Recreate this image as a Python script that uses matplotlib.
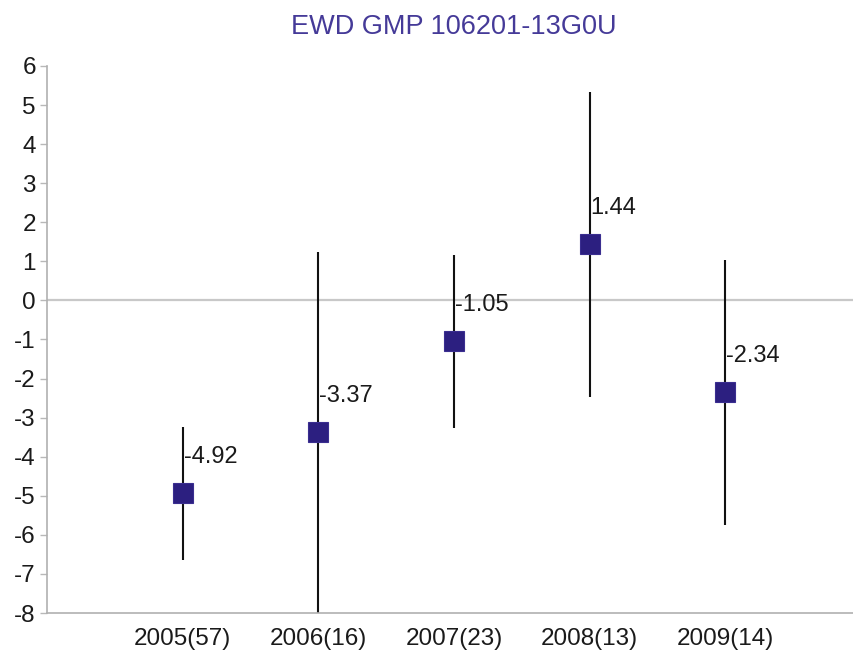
import matplotlib
matplotlib.use("Agg")
import matplotlib.pyplot as plt

# Yearly mean with interval, sample count in brackets
categories = ["2005(57)", "2006(16)", "2007(23)", "2008(13)", "2009(14)"]
means = [-4.92, -3.37, -1.05, 1.44, -2.34]
lower = [-6.64, -7.99, -3.27, -2.46, -5.75]
upper = [-3.23, 1.25, 1.16, 5.34, 1.03]
yticks = list(range(-8, 7))

plt.rcParams["font.family"] = ["Liberation Sans", "DejaVu Sans"]

fig = plt.figure(figsize=(8.54, 6.52), dpi=100)
ax = fig.add_axes([0.055, 0.0598, 0.945, 0.839])

xs = list(range(len(categories)))
err_lo = [m - l for m, l in zip(means, lower)]
err_hi = [u - m for m, u in zip(means, upper)]

ax.axhline(0, color="#c8c8c8", lw=1.6, zorder=1)
ax.errorbar(xs, means, yerr=[err_lo, err_hi], fmt="none", ecolor="#111111",
            elinewidth=1.5, capsize=0, zorder=2)
ax.plot(xs, means, "s", color="#2c1f80", markersize=14, markeredgecolor="#3a2e90",
        markeredgewidth=0.8, zorder=3)

for x, m in zip(xs, means):
    ax.annotate(f"{m:.2f}", (x, m), xytext=(1, 36), textcoords="offset pixels",
                ha="left", va="center", fontsize=17, color="#1a1a1a", zorder=4)

ax.set_xlim(-1.0, 4.95)
ax.set_ylim(-8, 6)
ax.set_xticks(xs)
ax.set_xticklabels(categories)
ax.set_yticks(yticks)
ax.set_yticklabels([str(t) for t in yticks])

for side in ("top", "right"):
    ax.spines[side].set_visible(False)
for side in ("left", "bottom"):
    ax.spines[side].set_color("#b0b0b0")
    ax.spines[side].set_linewidth(1.2)

ax.tick_params(axis="y", length=5, width=1, color="#b8b8b8", labelsize=17.5,
               labelcolor="#1a1a1a", pad=3)
ax.tick_params(axis="x", length=0, labelsize=17.5, labelcolor="#1a1a1a", pad=10.5)

fig.text(0.531, 0.959, "EWD GMP 106201-13G0U", ha="center", va="center",
         fontsize=19.5, color="#453a98")

fig.savefig("out.png", dpi=100)
